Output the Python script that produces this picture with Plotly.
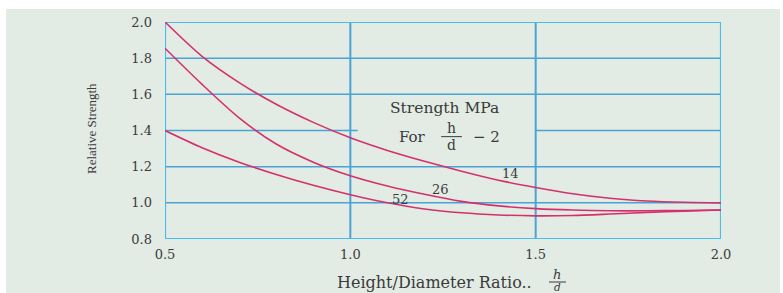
import plotly.graph_objects as go

# Data
ratio = [0.5, 0.6, 0.7, 0.8, 0.9, 1.0, 1.1, 1.2, 1.3, 1.4, 1.5, 1.6, 1.7, 1.8, 1.9, 2.0]
s14 = [2.00, 1.81, 1.665, 1.545, 1.445, 1.36, 1.29, 1.23, 1.175, 1.125, 1.085, 1.05, 1.025, 1.01, 1.003, 1.00]
s26 = [1.855, 1.655, 1.47, 1.325, 1.225, 1.15, 1.093, 1.047, 1.008, 0.983, 0.968, 0.96, 0.956, 0.956, 0.958, 0.96]
s52 = [1.40, 1.305, 1.225, 1.157, 1.097, 1.045, 1.0, 0.966, 0.945, 0.933, 0.928, 0.93, 0.938, 0.947, 0.954, 0.96]
series_names = ["14", "26", "52"]
series_values = [s14, s26, s52]
label_x = [1.433, 1.244, 1.136]
label_y = [1.165, 1.076, 1.02]
x_ticks = [0.5, 1.0, 1.5, 2.0]
y_ticks = [0.8, 1.0, 1.2, 1.4, 1.6, 1.8, 2.0]

BG = "#e2ece5"
GRID = "#4aa3d4"
AXIS = "#4cbbe6"
CURVE = "#d5306e"
SERIF = "DejaVu Serif, serif"
NARROW = "Liberation Serif, serif"
TXT = "#3a3a3a"

W, H = 783, 293
L, R, T, B = 165, 62, 22, 54
PW, PH = W - L - R, H - T - B


def px_x(sx):
    return (sx - L) / PW


def px_y(sy):
    return (H - B - sy) / PH


fig = go.Figure()
for name, ys in zip(series_names, series_values):
    fig.add_trace(go.Scatter(x=ratio, y=ys, mode="lines", name=name,
                             line=dict(color=CURVE, width=1.6, shape="spline", smoothing=0.8),
                             showlegend=False, hoverinfo="skip"))

shapes = []
# background panel
shapes.append(dict(type="rect", xref="paper", yref="paper", x0=px_x(6), x1=px_x(780),
                   y0=px_y(300), y1=px_y(9), fillcolor=BG, line=dict(width=0), layer="below"))
# horizontal gridlines
for yv in y_ticks:
    if yv in (0.8, 2.0):
        continue
    if abs(yv - 1.4) < 1e-9:
        shapes.append(dict(type="line", x0=0.5, x1=1.02, y0=yv, y1=yv, line=dict(color=GRID, width=1.5), layer="below"))
        shapes.append(dict(type="line", x0=1.5, x1=2.0, y0=yv, y1=yv, line=dict(color=GRID, width=1.5), layer="below"))
    else:
        shapes.append(dict(type="line", x0=0.5, x1=2.0, y0=yv, y1=yv, line=dict(color=GRID, width=1.5), layer="below"))
# vertical gridlines
for xv in [1.0, 1.5]:
    shapes.append(dict(type="line", x0=xv, x1=xv, y0=0.8, y1=2.0, line=dict(color=GRID, width=2), layer="below"))
# frame
shapes.append(dict(type="rect", x0=0.5, x1=2.0, y0=0.8, y1=2.0, line=dict(color=AXIS, width=2.2), layer="below"))

# legend fraction bar
shapes.append(dict(type="line", x0=1.245, x1=1.301, y0=1.366, y1=1.366, line=dict(color=TXT, width=1)))
# x-title fraction bar
shapes.append(dict(type="line", xref="paper", yref="paper",
                   x0=px_x(549), x1=px_x(566), y0=px_y(282), y1=px_y(282),
                   line=dict(color=TXT, width=1)))

annotations = []
for name, lx, ly in zip(series_names, label_x, label_y):
    annotations.append(dict(x=lx, y=ly, text=name, showarrow=False,
                            font=dict(family=SERIF, size=13, color=TXT)))
annotations += [
    dict(x=1.255, y=1.522, text="Strength MPa", showarrow=False, font=dict(family=SERIF, size=15.5, color=TXT)),
    dict(x=1.169, y=1.364, text="For", showarrow=False, font=dict(family=SERIF, size=15, color=TXT)),
    dict(x=1.273, y=1.413, text="h", showarrow=False, font=dict(family=SERIF, size=14, color=TXT)),
    dict(x=1.273, y=1.318, text="d", showarrow=False, font=dict(family=SERIF, size=14, color=TXT)),
    dict(x=1.366, y=1.364, text="− 2", showarrow=False, font=dict(family=SERIF, size=15, color=TXT)),
    dict(xref="paper", yref="paper", x=px_x(91), y=px_y(129), xanchor="center", yanchor="middle",
         text="Relative Strength", textangle=-90,
         showarrow=False, font=dict(family=NARROW, size=13, color=TXT)),
    dict(xref="paper", yref="paper", x=px_x(534), y=px_y(282), xanchor="right", yanchor="middle",
         text="Height/Diameter Ratio..", showarrow=False, font=dict(family=SERIF, size=16, color=TXT)),
    dict(xref="paper", yref="paper", x=px_x(557), y=px_y(274), xanchor="center", yanchor="middle",
         text="<i>h</i>", showarrow=False, font=dict(family=SERIF, size=13, color=TXT)),
    dict(xref="paper", yref="paper", x=px_x(557), y=px_y(286.5), xanchor="center", yanchor="middle",
         text="<i>d</i>", showarrow=False, font=dict(family=SERIF, size=10.5, color=TXT)),
]

fig.update_layout(
    width=W, height=H,
    margin=dict(l=L, r=R, t=T, b=B),
    paper_bgcolor="white", plot_bgcolor=BG,
    shapes=shapes, annotations=annotations,
    xaxis=dict(range=[0.5, 2.0], tickvals=x_ticks, ticktext=["0.5", "1.0", "1.5", "2.0"],
               showgrid=False, zeroline=False, showline=False, ticks="", ticklabelstandoff=6,
               tickfont=dict(family=SERIF, size=13, color=TXT)),
    yaxis=dict(range=[0.8, 2.0], tickvals=y_ticks, ticktext=[f"{v:.1f}" for v in y_ticks],
               showgrid=False, zeroline=False, showline=False, ticks="", ticklabelstandoff=12,
               tickfont=dict(family=SERIF, size=13, color=TXT)),
)

fig.write_html("out.html", config={"displayModeBar": False},
               post_script="document.body.style.margin='0px';document.body.style.overflow='hidden';")
